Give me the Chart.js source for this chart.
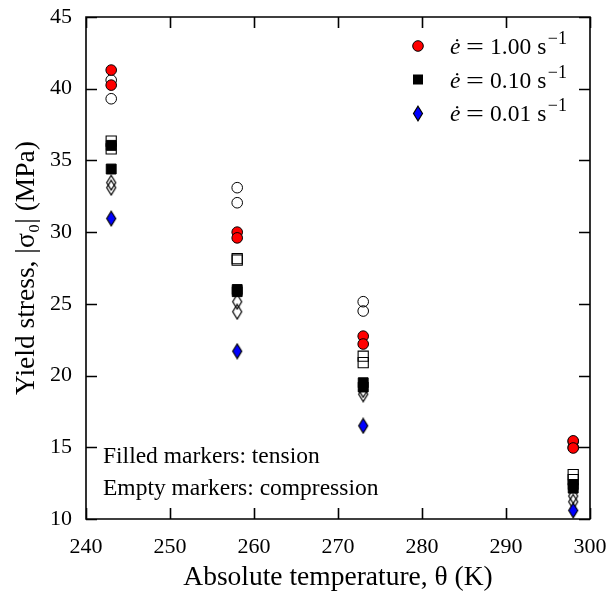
<!DOCTYPE html>
<html><head><meta charset="utf-8">
<script src="https://cdn.jsdelivr.net/npm/chart.js@4/dist/chart.umd.min.js"></script>
<style>html,body{margin:0;padding:0;background:#fff}#wrap{width:608px;height:596px}</style>
</head><body><div id="wrap"><canvas id="c" width="608" height="596"></canvas></div>
<script>
// ---- data (temperature in K, yield stress in MPa) ----
const xTicks = [240, 250, 260, 270, 280, 290, 300];
const yTicks = [10, 15, 20, 25, 30, 35, 40, 45];

const tens100T = [243, 243, 258, 258, 273, 273, 298, 298];
const tens100S = [41.3, 40.25, 30.0, 29.6, 22.75, 22.2, 15.45, 14.95];
const comp100T = [243, 243, 258, 258, 273, 273, 298, 298];
const comp100S = [40.6, 39.3, 33.1, 32.05, 25.15, 24.5, 15.4, 15.0];

const tens010T = [243, 243, 258, 258, 273, 273, 298, 298];
const tens010S = [36.05, 34.4, 26.0, 25.85, 19.5, 19.2, 12.4, 12.15];
const comp010T = [243, 243, 258, 258, 273, 273, 298, 298];
const comp010S = [36.35, 35.8, 28.15, 28.05, 21.35, 20.9, 13.1, 12.75];

const tens001T = [243, 258, 273, 298];
const tens001S = [30.95, 21.7, 16.5, 10.6];
const comp001T = [243, 243, 258, 258, 273, 273, 298, 298];
const comp001S = [33.45, 33.1, 25.15, 24.45, 19.0, 18.7, 11.6, 11.2];

const legendRates = ['1.00', '0.10', '0.01'];
const noteLines = ['Filled markers: tension', 'Empty markers: compression'];

const SERIF = '"Liberation Serif", "Times New Roman", "DejaVu Serif", serif';

function pts(xs, ys) { return xs.map((x, i) => ({x: x, y: ys[i]})); }

function diamond(fill) {
  const c = document.createElement('canvas');
  c.width = 12; c.height = 17;
  const g = c.getContext('2d');
  g.beginPath();
  g.moveTo(6, 1.2); g.lineTo(10.5, 8.5); g.lineTo(6, 15.8); g.lineTo(1.5, 8.5); g.closePath();
  if (fill) { g.fillStyle = fill; g.fill(); }
  g.strokeStyle = '#000'; g.lineWidth = 1.2; g.stroke();
  return c;
}
const diaBlue = diamond('#0000ff');
const diaEmpty = diamond(null);

const TICKLEN = 11;
const framePlugin = {
  id: 'frameBox',
  afterDraw(chart) {
    const ctx = chart.ctx, a = chart.chartArea;
    const xs = chart.scales.x, ys = chart.scales.y;
    const L = a.left, R = a.right, T = a.top, B = a.bottom;
    ctx.save();
    ctx.strokeStyle = '#000';
    ctx.lineWidth = 1.6;
    ctx.beginPath();
    ctx.rect(L, T, R - L, B - T);
    xTicks.forEach(v => {
      const p = Math.round(xs.getPixelForValue(v)) + 0.5;
      ctx.moveTo(p, B); ctx.lineTo(p, B - TICKLEN);
      ctx.moveTo(p, T); ctx.lineTo(p, T + TICKLEN);
    });
    yTicks.forEach(v => {
      const p = Math.round(ys.getPixelForValue(v)) + 0.5;
      ctx.moveTo(L, p); ctx.lineTo(L + TICKLEN, p);
      ctx.moveTo(R, p); ctx.lineTo(R - TICKLEN, p);
    });
    ctx.stroke();
    ctx.restore();
  }
};

const textPlugin = {
  id: 'legendNotes',
  afterDraw(chart) {
    const ctx = chart.ctx, a = chart.chartArea;
    ctx.save();
    const lx = a.left + 332, ty0 = a.top + 29, dy = 33.5;
    const markers = ['circle', 'square', 'diamond'];
    legendRates.forEach((r, i) => {
      const cy = ty0 + i * dy;
      ctx.save();
      ctx.lineWidth = 1;
      if (markers[i] === 'circle') {
        ctx.beginPath(); ctx.arc(lx, cy, 5.3, 0, Math.PI * 2);
        ctx.fillStyle = '#ff0000'; ctx.fill(); ctx.strokeStyle = '#000'; ctx.stroke();
      } else if (markers[i] === 'square') {
        ctx.fillStyle = '#000'; ctx.fillRect(lx - 5, cy - 5, 10, 10);
      } else {
        ctx.drawImage(diaBlue, Math.round(lx - 6), Math.round(cy - 8.5));
      }
      ctx.restore();
      ctx.fillStyle = '#000';
      const base = cy + 8;
      ctx.textBaseline = 'alphabetic';
      ctx.textAlign = 'left';
      let tx = lx + 32;
      ctx.font = 'italic 23.5px ' + SERIF;
      ctx.fillText('\u0117', tx, base);
      tx += 16;
      ctx.font = '23.5px ' + SERIF;
      ctx.save();
      ctx.translate(tx, base);
      ctx.scale(1.35, 1);
      ctx.fillText('=', 0, 0);
      ctx.restore();
      tx += 24;
      ctx.fillText(r, tx, base);
      tx += ctx.measureText(r).width + 6;
      ctx.fillText('s', tx, base);
      tx += ctx.measureText('s').width + 1.5;
      ctx.font = '18px ' + SERIF;
      ctx.fillText('\u22121', tx, base - 10);
    });

    ctx.font = '23.5px ' + SERIF;
    ctx.fillStyle = '#000';
    ctx.textAlign = 'left';
    ctx.textBaseline = 'alphabetic';
    noteLines.forEach((t, i) => ctx.fillText(t, a.left + 17, a.top + 446 + i * 32));
    ctx.restore();
  }
};

new Chart(document.getElementById('c'), {
  type: 'scatter',
  data: {
    datasets: [
      {label: 'comp 1.00', data: pts(comp100T, comp100S), order: 1, pointStyle: 'circle', pointRadius: 5.3,
       backgroundColor: 'rgba(0,0,0,0)', borderColor: '#000', pointBorderWidth: 1},
      {label: 'comp 0.10', data: pts(comp010T, comp010S), order: 1, pointStyle: 'rect', pointRadius: 7.2,
       backgroundColor: 'rgba(0,0,0,0)', borderColor: '#000', pointBorderWidth: 1.1},
      {label: 'comp 0.01', data: pts(comp001T, comp001S), order: 1, pointStyle: diaEmpty},
      {label: 'tens 1.00', data: pts(tens100T, tens100S), order: 0, pointStyle: 'circle', pointRadius: 5.3,
       backgroundColor: '#ff0000', borderColor: '#000', pointBorderWidth: 1},
      {label: 'tens 0.10', data: pts(tens010T, tens010S), order: 0, pointStyle: 'rect', pointRadius: 7,
       backgroundColor: '#000', borderColor: '#000', pointBorderWidth: 1},
      {label: 'tens 0.01', data: pts(tens001T, tens001S), order: 0, pointStyle: diaBlue}
    ]
  },
  options: {
    responsive: false,
    animation: false,
    events: [],
    layout: {padding: {left: 0, top: 17, right: 18, bottom: 0}},
    plugins: {legend: {display: false}, tooltip: {enabled: false}},
    scales: {
      x: {
        type: 'linear', min: 240, max: 300,
        afterBuildTicks: s => { s.ticks = xTicks.map(v => ({value: v})); },
        afterFit: s => { s.height = 77; s.paddingLeft = 0; s.paddingRight = 0; },
        grid: {display: false, drawTicks: false},
        border: {display: false},
        ticks: {color: '#000', font: {family: SERIF, size: 22}, padding: 15, maxRotation: 0, autoSkip: false},
        title: {display: true, text: 'Absolute temperature, \u03b8 (K)', color: '#000',
                font: {family: SERIF, size: 27.5}, padding: {top: 0, bottom: 2}}
      },
      y: {
        type: 'linear', min: 10, max: 45,
        afterBuildTicks: s => { s.ticks = yTicks.map(v => ({value: v})); },
        afterFit: s => { s.width = 86; s.paddingTop = 0; s.paddingBottom = 0; },
        grid: {display: false, drawTicks: false},
        border: {display: false},
        ticks: {color: '#000', font: {family: SERIF, size: 22}, padding: 14, autoSkip: false},
        title: {display: true, text: 'Yield stress, |\u03c3\u2080| (MPa)', color: '#000',
                font: {family: SERIF, size: 27.5}, padding: {top: 10, bottom: 0}}
      }
    }
  },
  plugins: [framePlugin, textPlugin]
});
</script>
</body></html>
